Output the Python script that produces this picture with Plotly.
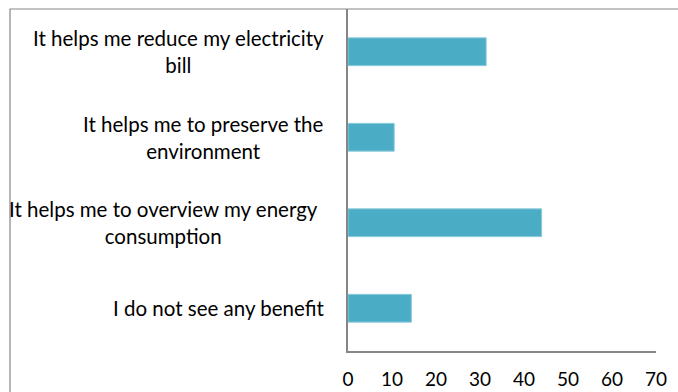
import plotly.graph_objects as go

# Survey: perceived benefit of the energy feedback (share of respondents, %)
categories = [
    "I do not see any benefit",
    "It helps me to overview my energy<br>consumption",
    "It helps me to preserve the<br>environment",
    "It helps me reduce my electricity<br>bill",
]
values = [14.4, 44.0, 10.5, 31.4]
x_ticks = [0, 10, 20, 30, 40, 50, 60, 70]

W, H = 678, 392
L, R, T, B = 348, 22, 9, 41
plot_w = W - L - R

BAR = "#4BACC6"
AXIS = "#868686"
FONT = "Lato"

fig = go.Figure(
    go.Bar(
        y=list(range(len(categories))),
        x=values,
        orientation="h",
        marker=dict(color=BAR, line=dict(color="#8ccbdc", width=1)),
        width=0.325,
        hoverinfo="x",
    )
)

# Category labels: centred lines, block right-aligned next to the axis
label_shift = [-22, -28, -22, -22]
annotations = []
for i, label in enumerate(categories):
    annotations.append(
        dict(
            x=0, y=i, xref="x", yref="y",
            text=label, showarrow=False,
            xanchor="right", yanchor="middle", align="center",
            xshift=label_shift[i],
            font=dict(family=FONT, size=20.5, color="#000000"),
        )
    )

# Outer chart frame
px = lambda p: (p - L) / plot_w
fig.add_shape(
    type="rect", xref="paper", yref="paper",
    x0=px(10), x1=px(700), y0=-0.5, y1=1.0,
    line=dict(color=AXIS, width=1.2), fillcolor="rgba(0,0,0,0)",
    layer="below",
)

fig.update_layout(
    width=W, height=H,
    margin=dict(l=L, r=R, t=T, b=B, autoexpand=False),
    paper_bgcolor="white", plot_bgcolor="white",
    showlegend=False,
    annotations=annotations,
    font=dict(family=FONT, size=19, color="#000000"),
    xaxis=dict(
        range=[0, 70], tickvals=x_ticks, ticktext=[str(v) for v in x_ticks],
        showgrid=False, zeroline=False, automargin=False,
        showline=True, linecolor=AXIS, linewidth=1.5,
        ticks="", ticklabelstandoff=10,
        tickfont=dict(family=FONT, size=19, color="#000000"),
    ),
    yaxis=dict(
        range=[-0.5, 3.5], showticklabels=False, automargin=False,
        showgrid=False, zeroline=False,
        showline=True, linecolor=AXIS, linewidth=1.5,
        ticks="",
    ),
)

fig.write_html("out.html")
